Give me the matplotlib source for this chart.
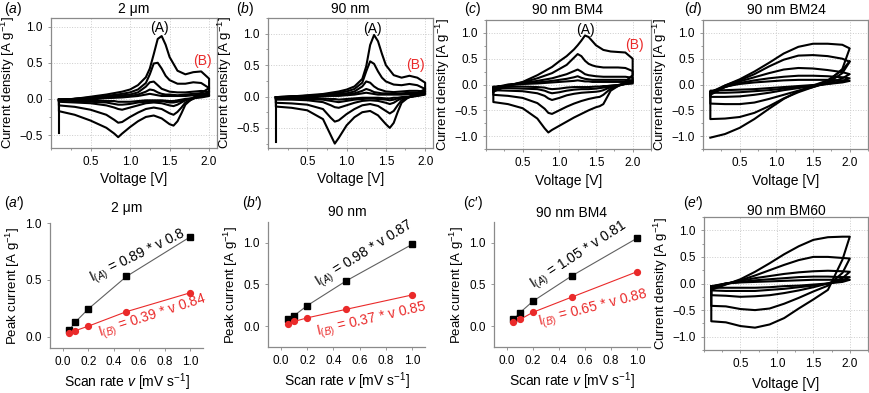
import matplotlib
matplotlib.use("Agg")
import matplotlib.pyplot as plt
from matplotlib.ticker import MultipleLocator

plt.rcParams['font.family'] = ['Liberation Sans', 'DejaVu Sans']
plt.rcParams['mathtext.fontset'] = 'custom'
plt.rcParams['mathtext.rm'] = 'Liberation Sans'
plt.rcParams['mathtext.it'] = 'Liberation Sans:italic'

RED = '#ea2a2a'

# ---------------- CV data ----------------
# scan rates for each loop: 1.0, 0.5, 0.2, 0.1, 0.05 mV/s
va_fine = [0.1, 0.3, 0.5, 0.7, 0.9, 1.0, 1.1, 1.2, 1.25, 1.3, 1.35, 1.4, 1.45, 1.5, 1.6, 1.7, 1.8, 1.9, 2.0]
vc_fine = [2.0, 1.9, 1.8, 1.7, 1.65, 1.6, 1.55, 1.5, 1.4, 1.3, 1.2, 1.1, 1.0, 0.9, 0.85, 0.8, 0.7, 0.5, 0.3, 0.1]
va_coarse = [0.1, 0.3, 0.5, 0.7, 0.9, 1.1, 1.3, 1.5, 1.7, 1.9, 2.0]
vc_coarse = [2.0, 1.9, 1.7, 1.5, 1.3, 1.1, 0.9, 0.7, 0.5, 0.3, 0.1]

# (a) 2 um
a_anodic = [
    [-0.03, 0.00, 0.03, 0.06, 0.10, 0.13, 0.19, 0.30, 0.42, 0.62, 0.83, 0.87, 0.75, 0.58, 0.39, 0.34, 0.37, 0.38, 0.28],
    [-0.02, 0.00, 0.02, 0.04, 0.07, 0.09, 0.13, 0.22, 0.34, 0.49, 0.50, 0.42, 0.32, 0.26, 0.21, 0.21, 0.23, 0.22, 0.15],
    [-0.01, 0.00, 0.01, 0.03, 0.05, 0.06, 0.09, 0.17, 0.23, 0.24, 0.19, 0.14, 0.12, 0.10, 0.09, 0.09, 0.10, 0.11, 0.10],
    [-0.01, 0.00, 0.01, 0.02, 0.03, 0.04, 0.06, 0.10, 0.13, 0.12, 0.09, 0.07, 0.06, 0.06, 0.05, 0.06, 0.07, 0.08, 0.07],
    [-0.01, 0.00, 0.00, 0.01, 0.02, 0.03, 0.04, 0.06, 0.07, 0.06, 0.05, 0.04, 0.04, 0.04, 0.04, 0.04, 0.05, 0.06, 0.05],
]
a_cathodic = [
    [0.15, 0.08, 0.02, -0.08, -0.20, -0.31, -0.37, -0.35, -0.27, -0.23, -0.25, -0.31, -0.39, -0.48, -0.53, -0.48, -0.40, -0.30, -0.22, -0.17],
    [0.10, 0.05, 0.00, -0.05, -0.12, -0.18, -0.22, -0.20, -0.14, -0.12, -0.14, -0.19, -0.25, -0.32, -0.33, -0.29, -0.22, -0.15, -0.11, -0.09],
    [0.08, 0.04, 0.01, -0.02, -0.05, -0.08, -0.10, -0.09, -0.06, -0.05, -0.06, -0.09, -0.12, -0.15, -0.14, -0.12, -0.09, -0.06, -0.05, -0.04],
    [0.05, 0.03, 0.01, -0.01, -0.03, -0.04, -0.05, -0.05, -0.03, -0.03, -0.04, -0.05, -0.07, -0.08, -0.08, -0.07, -0.05, -0.04, -0.03, -0.02],
    [0.04, 0.02, 0.01, 0.00, -0.01, -0.02, -0.03, -0.03, -0.02, -0.02, -0.02, -0.03, -0.04, -0.04, -0.04, -0.03, -0.03, -0.02, -0.02, -0.01],
]
a_first = [-0.47, -0.03]

# (b) 90 nm
b_anodic = [
    [-0.03, 0.00, 0.02, 0.04, 0.08, 0.11, 0.16, 0.28, 0.48, 0.82, 0.98, 0.88, 0.68, 0.50, 0.34, 0.30, 0.33, 0.30, 0.22],
    [-0.02, 0.00, 0.01, 0.03, 0.06, 0.08, 0.12, 0.22, 0.40, 0.56, 0.52, 0.40, 0.30, 0.24, 0.19, 0.18, 0.20, 0.18, 0.12],
    [-0.01, 0.00, 0.01, 0.02, 0.04, 0.05, 0.08, 0.16, 0.24, 0.22, 0.16, 0.12, 0.10, 0.08, 0.07, 0.08, 0.09, 0.09, 0.08],
    [-0.01, 0.00, 0.00, 0.01, 0.02, 0.03, 0.05, 0.09, 0.12, 0.10, 0.07, 0.06, 0.05, 0.05, 0.04, 0.05, 0.06, 0.06, 0.05],
    [-0.01, 0.00, 0.00, 0.01, 0.01, 0.02, 0.03, 0.05, 0.06, 0.05, 0.04, 0.03, 0.03, 0.03, 0.03, 0.03, 0.04, 0.04, 0.04],
]
b_cathodic = [
    [0.12, 0.05, 0.00, -0.10, -0.25, -0.42, -0.50, -0.44, -0.30, -0.23, -0.25, -0.33, -0.46, -0.66, -0.75, -0.62, -0.36, -0.22, -0.18, -0.16],
    [0.08, 0.03, -0.01, -0.06, -0.14, -0.23, -0.27, -0.23, -0.15, -0.12, -0.14, -0.20, -0.28, -0.38, -0.40, -0.34, -0.20, -0.13, -0.11, -0.10],
    [0.06, 0.02, -0.01, -0.03, -0.06, -0.10, -0.12, -0.10, -0.07, -0.06, -0.07, -0.10, -0.14, -0.18, -0.17, -0.14, -0.09, -0.06, -0.05, -0.05],
    [0.04, 0.01, -0.01, -0.02, -0.03, -0.05, -0.06, -0.05, -0.04, -0.03, -0.04, -0.05, -0.07, -0.09, -0.08, -0.07, -0.05, -0.04, -0.03, -0.03],
    [0.03, 0.01, 0.00, -0.01, -0.02, -0.02, -0.03, -0.03, -0.02, -0.02, -0.02, -0.03, -0.04, -0.05, -0.04, -0.04, -0.03, -0.02, -0.02, -0.02],
]
b_first = [-0.72, -0.03]

# (c) 90 nm BM4
c_anodic = [
    [-0.14, -0.02, 0.05, 0.18, 0.34, 0.45, 0.55, 0.68, 0.76, 0.85, 0.95, 0.92, 0.84, 0.76, 0.67, 0.64, 0.63, 0.62, 0.50],
    [-0.12, -0.02, 0.04, 0.12, 0.22, 0.30, 0.38, 0.52, 0.59, 0.55, 0.46, 0.40, 0.37, 0.35, 0.33, 0.33, 0.33, 0.32, 0.26],
    [-0.10, -0.01, 0.03, 0.07, 0.12, 0.16, 0.20, 0.26, 0.29, 0.25, 0.20, 0.18, 0.17, 0.16, 0.15, 0.15, 0.15, 0.15, 0.13],
    [-0.08, -0.01, 0.02, 0.04, 0.07, 0.09, 0.11, 0.14, 0.16, 0.13, 0.11, 0.10, 0.09, 0.09, 0.09, 0.09, 0.09, 0.09, 0.08],
    [-0.06, 0.00, 0.01, 0.02, 0.04, 0.05, 0.06, 0.07, 0.08, 0.07, 0.06, 0.06, 0.05, 0.05, 0.05, 0.05, 0.05, 0.05, 0.05],
]
c_cathodic = [
    [0.18, 0.06, -0.03, -0.12, -0.25, -0.38, -0.42, -0.44, -0.50, -0.57, -0.64, -0.72, -0.80, -0.88, -0.93, -0.85, -0.66, -0.46, -0.38, -0.34],
    [0.08, 0.02, -0.03, -0.08, -0.14, -0.20, -0.24, -0.25, -0.28, -0.32, -0.37, -0.43, -0.50, -0.57, -0.55, -0.47, -0.36, -0.26, -0.22, -0.20],
    [0.05, 0.01, -0.02, -0.05, -0.08, -0.11, -0.13, -0.14, -0.15, -0.16, -0.18, -0.21, -0.26, -0.30, -0.27, -0.22, -0.17, -0.13, -0.12, -0.11],
    [0.03, 0.01, -0.01, -0.03, -0.05, -0.06, -0.07, -0.08, -0.09, -0.09, -0.10, -0.12, -0.15, -0.17, -0.15, -0.12, -0.09, -0.08, -0.07, -0.07],
    [0.02, 0.01, -0.01, -0.02, -0.03, -0.03, -0.04, -0.04, -0.05, -0.05, -0.05, -0.06, -0.08, -0.09, -0.08, -0.06, -0.05, -0.04, -0.04, -0.04],
]

# (d) 90 nm BM24
d_anodic = [
    [-0.15, -0.02, 0.10, 0.25, 0.42, 0.60, 0.73, 0.79, 0.79, 0.77, 0.70],
    [-0.18, -0.02, 0.08, 0.20, 0.35, 0.48, 0.56, 0.57, 0.55, 0.50, 0.44],
    [-0.20, -0.05, 0.06, 0.14, 0.22, 0.29, 0.32, 0.31, 0.28, 0.24, 0.20],
    [-0.18, -0.05, 0.03, 0.08, 0.12, 0.15, 0.17, 0.17, 0.16, 0.14, 0.12],
    [-0.15, -0.04, 0.01, 0.04, 0.06, 0.08, 0.09, 0.09, 0.09, 0.08, 0.07],
]
d_cathodic = [
    [0.70, 0.30, 0.05, -0.05, -0.15, -0.27, -0.42, -0.55, -0.63, -0.66, -0.67],
    [0.44, 0.22, 0.03, -0.05, -0.12, -0.20, -0.28, -0.35, -0.38, -0.38, -0.37],
    [0.20, 0.12, 0.02, -0.03, -0.07, -0.11, -0.16, -0.20, -0.23, -0.24, -0.24],
    [0.12, 0.07, 0.01, -0.02, -0.05, -0.08, -0.11, -0.13, -0.15, -0.16, -0.16],
    [0.07, 0.04, 0.01, -0.01, -0.03, -0.05, -0.07, -0.09, -0.10, -0.11, -0.12],
]
d_first = [-1.03, -0.96, -0.84, -0.67, -0.47, -0.28, -0.13, -0.02, 0.08, 0.28, 0.45]

# (e') 90 nm BM60
e_anodic = [
    [-0.12, -0.02, 0.08, 0.22, 0.38, 0.55, 0.70, 0.82, 0.87, 0.88, 0.88],
    [-0.10, -0.01, 0.06, 0.15, 0.25, 0.35, 0.44, 0.50, 0.50, 0.48, 0.47],
    [-0.08, 0.00, 0.05, 0.10, 0.14, 0.18, 0.21, 0.23, 0.24, 0.23, 0.22],
    [-0.06, 0.00, 0.03, 0.06, 0.08, 0.10, 0.12, 0.13, 0.13, 0.12, 0.12],
    [-0.05, 0.00, 0.02, 0.03, 0.04, 0.05, 0.06, 0.07, 0.07, 0.07, 0.07],
]
e_cathodic = [
    [0.88, 0.45, -0.12, -0.30, -0.47, -0.65, -0.77, -0.83, -0.80, -0.73, -0.71],
    [0.47, 0.20, -0.04, -0.15, -0.27, -0.38, -0.47, -0.50, -0.48, -0.43, -0.42],
    [0.22, 0.10, 0.00, -0.07, -0.13, -0.18, -0.22, -0.24, -0.25, -0.23, -0.22],
    [0.12, 0.06, 0.00, -0.04, -0.07, -0.10, -0.12, -0.14, -0.14, -0.14, -0.13],
    [0.07, 0.03, 0.00, -0.02, -0.04, -0.05, -0.07, -0.08, -0.08, -0.08, -0.08],
]

# ---------------- peak current vs scan rate ----------------
scan_rate = [0.05, 0.1, 0.2, 0.5, 1.0]
ap_peak_A = [0.056, 0.13, 0.243, 0.53, 0.878]
ap_peak_B = [0.03, 0.053, 0.092, 0.22, 0.386]
bp_peak_A = [0.08, 0.127, 0.247, 0.546, 0.98]
bp_peak_B = [0.028, 0.056, 0.10, 0.203, 0.374]
cp_peak_A = [0.08, 0.163, 0.30, 0.605, 1.055]
cp_peak_B = [0.044, 0.08, 0.167, 0.35, 0.653]

W, H = 870, 393
fig = plt.figure(figsize=(W / 100, H / 100), dpi=100)


def px_axes(l, t, r, b):
    return fig.add_axes([l / W, 1 - b / H, (r - l) / W, (b - t) / H])


def fig_text(x, y, s, **kw):
    fig.text(x / W, 1 - y / H, s, ha='center', va='center', **kw)


def style_cv(ax, xlim, ylim, yticks):
    ax.set_xlim(*xlim)
    ax.set_ylim(*ylim)
    ax.set_xticks([0.5, 1.0, 1.5, 2.0])
    ax.set_yticks(yticks)
    ax.xaxis.set_minor_locator(MultipleLocator(0.25))
    ax.yaxis.set_minor_locator(MultipleLocator(0.25))
    ax.grid(True, which='major', ls=':', color='#cccccc', lw=0.7)
    for sp in ax.spines.values():
        sp.set_color('#8a8a8a')
        sp.set_linewidth(0.9)
    ax.tick_params(which='both', colors='#8a8a8a', labelcolor='black', labelsize=8.5, length=2.5, width=0.6)
    ax.tick_params(which='minor', length=1.5)
    ax.set_xlabel('Voltage [V]', fontsize=10, labelpad=3)
    ax.set_ylabel(r'Current density [A g$^{-1}$]', fontsize=9.5, labelpad=2)


def draw_cv(ax, va, anodic, vc, cathodic):
    for up, down in zip(anodic, cathodic):
        v = list(va) + list(vc) + [va[0]]
        cur = list(up) + list(down) + [up[0]]
        ax.plot(v, cur, color='black', lw=1.5, solid_joinstyle='round')


def style_peak(ax, ylim, yticks):
    ax.set_xlim(-0.1, 1.1)
    ax.set_ylim(*ylim)
    ax.set_xticks([0.0, 0.2, 0.4, 0.6, 0.8, 1.0])
    ax.set_yticks(yticks)
    ax.spines['top'].set_visible(False)
    ax.spines['right'].set_visible(False)
    for sp in ('left', 'bottom'):
        ax.spines[sp].set_color('#8a8a8a')
        ax.spines[sp].set_linewidth(0.9)
    ax.tick_params(colors='#8a8a8a', labelcolor='black', labelsize=8.5, length=2.5, width=0.6)
    ax.set_xlabel(r'Scan rate $v$ [mV s$^{-1}$]', fontsize=10, labelpad=2)
    ax.set_ylabel(r'Peak current [A g$^{-1}$]', fontsize=9.5, labelpad=2)


def draw_peak(ax, pa, pb, label_a, pos_a, rot_a, label_b, pos_b, rot_b):
    ax.plot(scan_rate, pa, color='#606060', lw=0.8, zorder=2)
    ax.plot(scan_rate, pb, color=RED, lw=0.8, zorder=2)
    ax.plot(scan_rate, pa, 's', color='black', ms=4.2, zorder=3)
    ax.plot(scan_rate, pb, 'o', color=RED, ms=4.2, zorder=3)
    ax.text(pos_a[0], pos_a[1], label_a, rotation=rot_a, rotation_mode='anchor',
            ha='center', va='center', fontsize=10, color='black')
    ax.text(pos_b[0], pos_b[1], label_b, rotation=rot_b, rotation_mode='anchor',
            ha='center', va='center', fontsize=10, color=RED)


# ---- top row ----
ax = px_axes(51, 18, 217, 148)
draw_cv(ax, va_fine, a_anodic, vc_fine, a_cathodic)
ax.plot([0.1, 0.1], a_first, color='black', lw=1.5)
style_cv(ax, (0, 2.1), (-0.68, 1.12), [-0.5, 0.0, 0.5, 1.0])
ax.text(1.37, 0.98, '(A)', ha='center', va='center', fontsize=10)
ax.text(1.92, 0.52, '(B)', ha='center', va='center', fontsize=10, color=RED)

ax = px_axes(268, 18, 433, 148)
draw_cv(ax, va_fine, b_anodic, vc_fine, b_cathodic)
ax.plot([0.1, 0.1], b_first, color='black', lw=1.5)
style_cv(ax, (0, 2.1), (-0.82, 1.25), [-0.5, 0.0, 0.5, 1.0])
ax.text(1.33, 1.07, '(A)', ha='center', va='center', fontsize=10)
ax.text(1.88, 0.50, '(B)', ha='center', va='center', fontsize=10, color=RED)

ax = px_axes(486, 20, 651, 149)
draw_cv(ax, va_fine, c_anodic, vc_fine, c_cathodic)
style_cv(ax, (0, 2.25), (-1.25, 1.25), [-1.0, -0.5, 0.0, 0.5, 1.0])
ax.text(1.35, 1.06, '(A)', ha='center', va='center', fontsize=10)
ax.text(2.02, 0.77, '(B)', ha='center', va='center', fontsize=10, color=RED)

ax = px_axes(703, 20, 868, 149)
draw_cv(ax, va_coarse, d_anodic, vc_coarse, d_cathodic)
ax.plot(va_coarse, d_first, color='black', lw=1.5)
style_cv(ax, (0, 2.25), (-1.25, 1.25), [-1.0, -0.5, 0.0, 0.5, 1.0])

# ---- bottom row ----
ax = px_axes(50, 223, 203, 348)
draw_peak(ax, ap_peak_A, ap_peak_B,
          r'I$_{(A)}$ = 0.89 * v 0.8', (0.59, 0.70), 26,
          r'I$_{(B)}$ = 0.39 * v 0.84', (0.71, 0.17), 18)
style_peak(ax, (-0.1, 1.0), [0.0, 0.5, 1.0])

ax = px_axes(268, 222, 425, 347)
draw_peak(ax, bp_peak_A, bp_peak_B,
          r'I$_{(A)}$ = 0.98 * v 0.87', (0.64, 0.86), 32,
          r'I$_{(B)}$ = 0.37 * v 0.85', (0.69, 0.07), 13)
style_peak(ax, (-0.25, 1.25), [0.0, 0.5, 1.0])

ax = px_axes(494, 222, 650, 347)
draw_peak(ax, cp_peak_A, cp_peak_B,
          r'I$_{(A)}$ = 1.05 * v 0.81', (0.556, 0.84), 33,
          r'I$_{(B)}$ = 0.65 * v 0.88', (0.66, 0.20), 14.5)
style_peak(ax, (-0.25, 1.25), [0.0, 0.5, 1.0])

ax = px_axes(704, 217, 868, 350)
draw_cv(ax, va_coarse, e_anodic, vc_coarse, e_cathodic)
style_cv(ax, (0, 2.25), (-1.25, 1.25), [-1.0, -0.5, 0.0, 0.5, 1.0])
ax.xaxis.labelpad = 5

# ---- titles and panel letters ----
fig_text(134, 9, '2 \u03bcm', fontsize=10)
fig_text(350, 9, '90 nm', fontsize=10)
fig_text(568, 10, '90 nm BM4', fontsize=10)
fig_text(786, 10, '90 nm BM24', fontsize=10)
fig_text(127, 208, '2 \u03bcm', fontsize=10)
fig_text(347, 212, '90 nm', fontsize=10)
fig_text(572, 213, '90 nm BM4', fontsize=10)
fig_text(786, 211, '90 nm BM60', fontsize=10)

for x, y, s in [(13, 9, '($a$)'), (245, 9, '($b$)'), (473, 9, '($c$)'), (693, 9, '($d$)'),
                (14, 203, '($a$\u2032)'), (252, 203, '($b$\u2032)'),
                (473, 203, '($c$\u2032)'), (693, 203, '($e$\u2032)')]:
    fig_text(x, y, s, fontsize=10)

fig.savefig('out.png', dpi=100)
